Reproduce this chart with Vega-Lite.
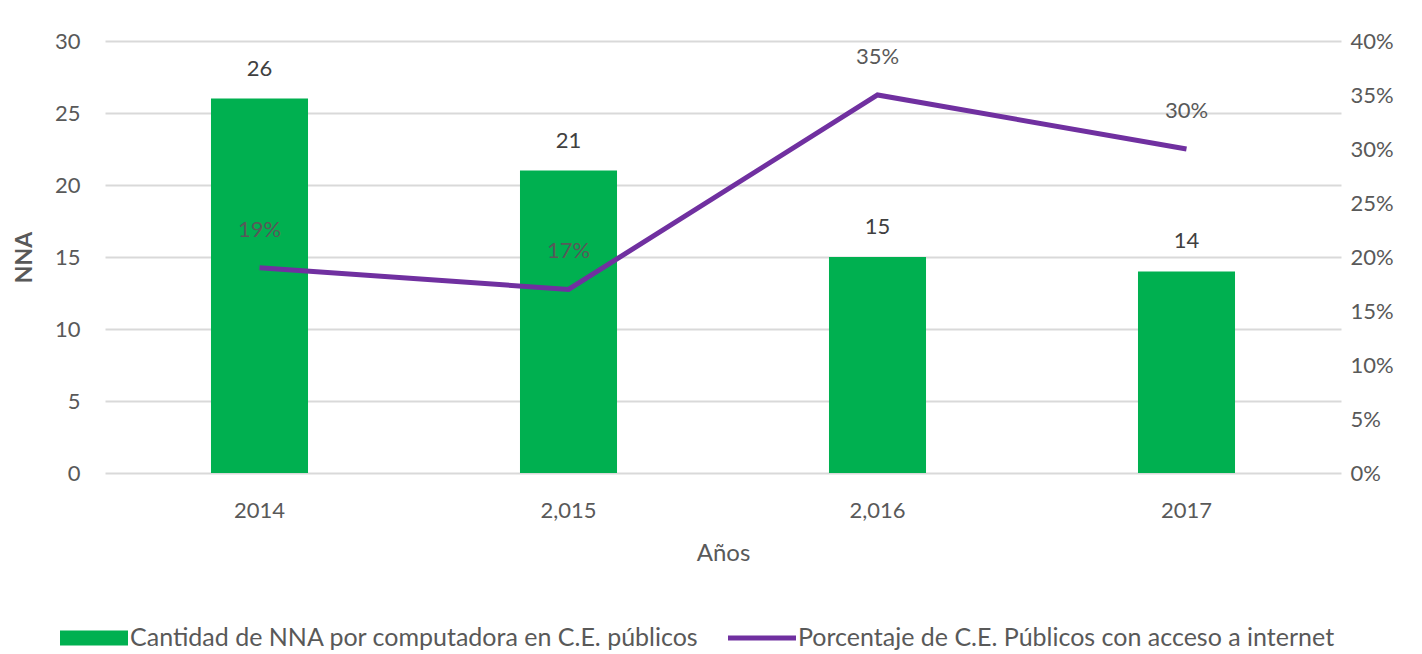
{
  "$schema": "https://vega.github.io/schema/vega-lite/v6.json",
  "autosize": "none",
  "width": 1236,
  "height": 432,
  "padding": {"left": 105, "top": 41, "right": 81, "bottom": 181},
  "background": "white",
  "config": {
    "view": {"stroke": null},
    "font": "Lato",
    "axis": {"labelFont": "Lato", "titleFont": "Lato", "labelColor": "#595959", "titleColor": "#595959"},
    "legend": {"labelFont": "Lato"}
  },
  "data": {
    "values": [
      {"anio": "2014", "nna": 26, "pct": 0.19},
      {"anio": "2,015", "nna": 21, "pct": 0.17},
      {"anio": "2,016", "nna": 15, "pct": 0.35},
      {"anio": "2017", "nna": 14, "pct": 0.30}
    ]
  },
  "encoding": {
    "x": {
      "field": "anio", "type": "nominal", "sort": null,
      "scale": {"paddingInner": 0.686, "paddingOuter": 0.343},
      "axis": {"title": "Años", "labelAngle": 0, "labelFontSize": 22, "titleFontSize": 24, "titleFontWeight": "normal",
               "labelPadding": 27, "ticks": false, "tickSize": 0, "domain": false, "titlePadding": 20}
    }
  },
  "layer": [
    {
      "layer": [
        {
          "mark": {"type": "bar", "color": "#00B050"},
          "encoding": {
            "y": {"field": "nna", "type": "quantitative", "scale": {"domain": [0, 30]},
                  "axis": {"title": "NNA", "values": [0,5,10,15,20,25,30], "labelFontSize": 22, "titleFontSize": 23, "titleFontWeight": "bold",
                           "labelPadding": 25, "titlePadding": 18, "ticks": false, "tickSize": 0, "domain": false,
                           "grid": true, "gridColor": "#d9d9d9", "gridWidth": 2}},
            "color": {"datum": "Cantidad de NNA por computadora en C.E. públicos", "type": "nominal",
                      "scale": {"domain": ["Cantidad de NNA por computadora en C.E. públicos", "Porcentaje de C.E. Públicos con acceso a internet"],
                                "range": ["#00B050", "#7030A0"]},
                      "legend": {
                        "orient": "none", "legendX": -45, "legendY": 563, "direction": "horizontal", "title": null,
                        "labelFontSize": 25, "labelColor": "#595959", "labelOffset": 2, "columnPadding": 28, "labelLimit": 800,
                        "symbolSize": 4624, "symbolType": "M-1,-0.22H1V0.22H-1Z", "symbolStrokeWidth": 0,
                        "encode": {
                          "symbols": {"update": {
                            "shape": {"signal": "datum.index === 0 ? 'M-1,-0.22H1V0.22H-1Z' : 'M-1,-0.075H1V0.075H-1Z'"},
                            "fill": {"scale": "color", "field": "value"},
                            "strokeWidth": {"value": 0},
                            "opacity": {"value": 1}
                          }}
                        }
                      }}
          }
        },
        {
          "mark": {"type": "text", "dy": -30, "fontSize": 22, "color": "#404040", "baseline": "middle"},
          "encoding": {
            "y": {"field": "nna", "type": "quantitative"},
            "text": {"field": "nna", "type": "quantitative"}
          }
        }
      ]
    },
    {
      "layer": [
        {
          "mark": {"type": "line", "strokeWidth": 5, "color": "#7030A0"},
          "encoding": {
            "y": {"field": "pct", "type": "quantitative", "scale": {"domain": [0, 0.4]},
                  "axis": {"orient": "right", "title": null, "format": ".0%", "values": [0,0.05,0.1,0.15,0.2,0.25,0.3,0.35,0.4],
                           "labelFontSize": 22, "labelPadding": 9, "ticks": false, "tickSize": 0, "domain": false, "grid": false}},
            "color": {"datum": "Porcentaje de C.E. Públicos con acceso a internet", "type": "nominal"}
          }
        },
        {
          "mark": {"type": "text", "dy": -38, "fontSize": 22, "color": "#595959", "baseline": "middle"},
          "encoding": {
            "y": {"field": "pct", "type": "quantitative"},
            "text": {"field": "pct", "type": "quantitative", "format": ".0%"}
          }
        }
      ]
    }
  ],
  "resolve": {"scale": {"y": "independent"}}
}
